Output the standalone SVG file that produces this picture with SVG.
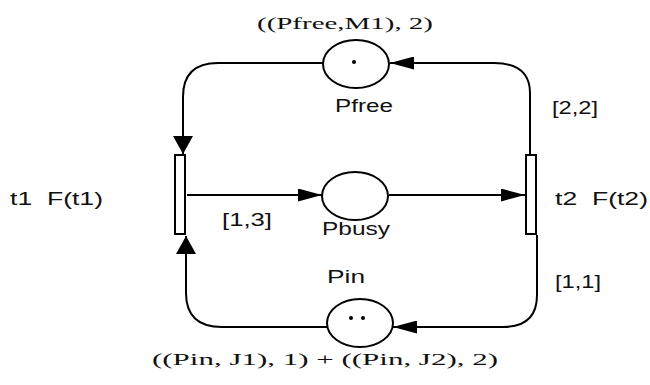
<svg xmlns="http://www.w3.org/2000/svg" width="650" height="385" viewBox="0 0 650 385">
<defs>
<style>
.conn{fill:none;stroke:#000;stroke-width:2}
.place{fill:#fff;stroke:#000;stroke-width:2}
.trans{fill:#fff;stroke:#000;stroke-width:2}
.tok{fill:#000}
.sans{font-family:"Liberation Sans",Arial,sans-serif;font-size:18px;fill:#111;white-space:pre}
.serif{font-family:"Liberation Serif","Times New Roman",serif;font-size:17px;fill:#111}
</style>
<marker id="ah" viewBox="0 0 24 13" refX="24" refY="6.5" markerWidth="24" markerHeight="13" markerUnits="userSpaceOnUse" orient="auto">
<path d="M0,0 L24,6.5 L0,13 Z" fill="#000"/>
</marker>
<marker id="av" viewBox="0 0 18 20" refX="18" refY="10" markerWidth="18" markerHeight="20" markerUnits="userSpaceOnUse" orient="auto">
<path d="M0,0 L18,10 L0,20 Z" fill="#000"/>
</marker>
</defs>
<rect width="650" height="385" fill="#fff"/>
<g id="connectors">
<path class="conn" d="M323,63 H218 Q183,63 183,97 V154" marker-end="url(#av)"/>
<path class="conn" d="M530,155 V93 Q530,63 494,63 H390" marker-end="url(#ah)"/>
<path class="conn" d="M187,195 H322" marker-end="url(#ah)"/>
<path class="conn" d="M389,195 H525" marker-end="url(#ah)"/>
<path class="conn" d="M537,235 V295 Q537,327 503,327 H393" marker-end="url(#ah)"/>
<path class="conn" d="M327,327 H222 Q186,327 186,293 V236" marker-end="url(#av)"/>
</g>
<g id="Pfree">
<ellipse class="place" cx="356" cy="64" rx="33" ry="24"/>
<circle class="tok" cx="354" cy="62" r="2"/>
<text class="serif" x="257" y="29" textLength="176" lengthAdjust="spacingAndGlyphs">((Pfree,M1), 2)</text>
<text class="sans" x="335" y="112" textLength="58" lengthAdjust="spacingAndGlyphs">Pfree</text>
</g>
<g id="Pbusy">
<ellipse class="place" cx="355" cy="196" rx="33" ry="24"/>
<text class="sans" x="322" y="235" textLength="68" lengthAdjust="spacingAndGlyphs">Pbusy</text>
</g>
<g id="Pin">
<ellipse class="place" cx="360" cy="323" rx="33" ry="24"/>
<circle class="tok" cx="351" cy="318" r="2"/>
<circle class="tok" cx="363" cy="318" r="2"/>
<text class="sans" x="327" y="283" textLength="38" lengthAdjust="spacingAndGlyphs">Pin</text>
<text class="serif" x="152" y="365" textLength="346" lengthAdjust="spacingAndGlyphs">((Pin, J1), 1) + ((Pin, J2), 2)</text>
</g>
<g id="t1">
<rect class="trans" x="175" y="155" width="10" height="79"/>
<text class="sans" x="10" y="205" textLength="93" lengthAdjust="spacingAndGlyphs">t1  F(t1)</text>
</g>
<g id="t2">
<rect class="trans" x="526" y="155" width="10" height="79"/>
<text class="sans" x="555" y="205" textLength="93" lengthAdjust="spacingAndGlyphs">t2  F(t2)</text>
</g>
<g id="labels">
<text class="sans" x="552" y="114" textLength="46" lengthAdjust="spacingAndGlyphs">[2,2]</text>
<text class="sans" x="222" y="226" textLength="50" lengthAdjust="spacingAndGlyphs">[1,3]</text>
<text class="sans" x="555" y="288" textLength="46" lengthAdjust="spacingAndGlyphs">[1,1]</text>
</g>
</svg>
